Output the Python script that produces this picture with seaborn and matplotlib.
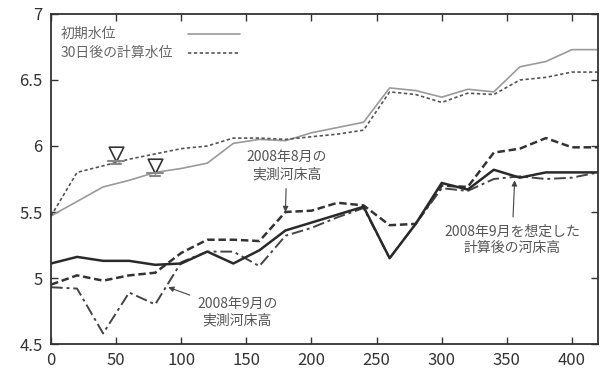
import matplotlib.pyplot as plt
import numpy as np
import pandas as pd
import seaborn as sns

sns.set_theme(style="ticks")
plt.rcParams["font.family"] = ["Noto Sans CJK JP", "DejaVu Sans"]

# 距離 (m)
dist = [0, 20, 40, 60, 80, 100, 120, 140, 160, 180, 200,
        220, 240, 260, 280, 300, 320, 340, 360, 380, 400, 420]

# 水位・河床高 (m)
wl_init = [5.47, 5.58, 5.69, 5.74, 5.80, 5.83, 5.87, 6.02, 6.05, 6.04, 6.10,
           6.14, 6.18, 6.44, 6.42, 6.37, 6.43, 6.41, 6.60, 6.64, 6.73, 6.73]
wl_30d = [5.47, 5.80, 5.85, 5.90, 5.94, 5.98, 6.00, 6.06, 6.06, 6.05, 6.07,
          6.09, 6.12, 6.41, 6.39, 6.33, 6.40, 6.39, 6.50, 6.52, 6.56, 6.56]
bed_aug = [4.95, 5.02, 4.98, 5.02, 5.04, 5.19, 5.29, 5.29, 5.28, 5.50, 5.51,
           5.57, 5.55, 5.40, 5.41, 5.70, 5.69, 5.95, 5.98, 6.06, 5.99, 5.99]
bed_calc = [5.11, 5.16, 5.13, 5.13, 5.10, 5.11, 5.20, 5.11, 5.21, 5.36, 5.42,
            5.48, 5.54, 5.15, 5.41, 5.72, 5.67, 5.82, 5.76, 5.80, 5.80, 5.80]
bed_sep = [4.93, 4.92, 4.58, 4.89, 4.80, 5.12, 5.20, 5.20, 5.09, 5.32, 5.38,
           5.46, 5.53, 5.15, 5.41, 5.68, 5.66, 5.75, 5.77, 5.75, 5.76, 5.80]

# 水位記号の位置
mark_x = [50, 80]
mark_y = [5.89, 5.80]

legend_labels = ["初期水位", "30日後の計算水位"]

df = pd.DataFrame({"x": dist, "init": wl_init, "w30": wl_30d,
                   "aug": bed_aug, "calc": bed_calc, "sep": bed_sep})

fig = plt.figure(figsize=(6.03, 3.73), dpi=100)
ax = fig.add_axes([0.0846, 0.0777, 0.9071, 0.8848])

init_style = dict(color="#9a9a9a", lw=1.2)
w30_style = dict(color="#555555", lw=1.2, linestyle=(0, (2, 1.5)))

sns.lineplot(data=df, x="x", y="init", ax=ax, legend=False, **init_style)
sns.lineplot(data=df, x="x", y="w30", ax=ax, legend=False, **w30_style)
sns.lineplot(data=df, x="x", y="aug", ax=ax, color="#333333", lw=1.8,
             linestyle=(0, (3, 1.5)), legend=False)
sns.lineplot(data=df, x="x", y="sep", ax=ax, color="#444444", lw=1.4,
             linestyle=(0, (6, 2, 1.5, 2)), legend=False)
sns.lineplot(data=df, x="x", y="calc", ax=ax, color="#2a2a2a", lw=1.8, legend=False)

# 水位記号 ▽
ax.scatter(mark_x, [y + 0.05 for y in mark_y], marker="v", s=110,
           facecolors="white", edgecolors="#333333", linewidths=1.2, zorder=5)
for mx, my in zip(mark_x, mark_y):
    ax.plot([mx - 6, mx + 6], [my - 0.005, my - 0.005], color="#888888", lw=1.5, zorder=5)
    ax.plot([mx - 4, mx + 4], [my - 0.03, my - 0.03], color="#888888", lw=1.5, zorder=5)

ax.set_xlim(0, 420)
ax.set_ylim(4.5, 7)
ax.set_xticks(np.arange(0, 401, 50))
ax.set_yticks(np.arange(4.5, 7.01, 0.5))
ax.set_yticklabels(["4.5", "5", "5.5", "6", "6.5", "7"])
ax.tick_params(direction="in", top=True, right=True, length=5, width=1,
               labelsize=12, colors="#333333", pad=6)
for s in ax.spines.values():
    s.set_color("#333333")
    s.set_linewidth(1.3)
ax.set_xlabel("")
ax.set_ylabel("")

# 凡例 (テキストが左, 線見本が右)
for i, (lab, st) in enumerate(zip(legend_labels, [init_style, w30_style])):
    yy = 0.94 - i * 0.058
    ax.text(0.017, yy, lab, transform=ax.transAxes, fontsize=10,
            color="#666666", va="center", ha="left")
    ax.plot([0.251, 0.345], [yy, yy], transform=ax.transAxes, **st)

txt = dict(fontsize=10, color="#555555", ha="center", va="center", linespacing=1.25)
arr = dict(arrowstyle="-|>", color="#444444", lw=0.8, mutation_scale=8,
           shrinkA=3, shrinkB=0)
ax.annotate("2008年8月の\n実測河床高", xy=(180, 5.50), xytext=(181, 5.85),
            arrowprops=arr, **txt)
ax.annotate("2008年9月の\n実測河床高", xy=(90, 4.93), xytext=(143, 4.74),
            arrowprops=arr, **txt)
ax.annotate("2008年9月を想定した\n計算後の河床高", xy=(356, 5.74), xytext=(354, 5.29),
            arrowprops=arr, **txt)

fig.savefig("out.png", dpi=100)
